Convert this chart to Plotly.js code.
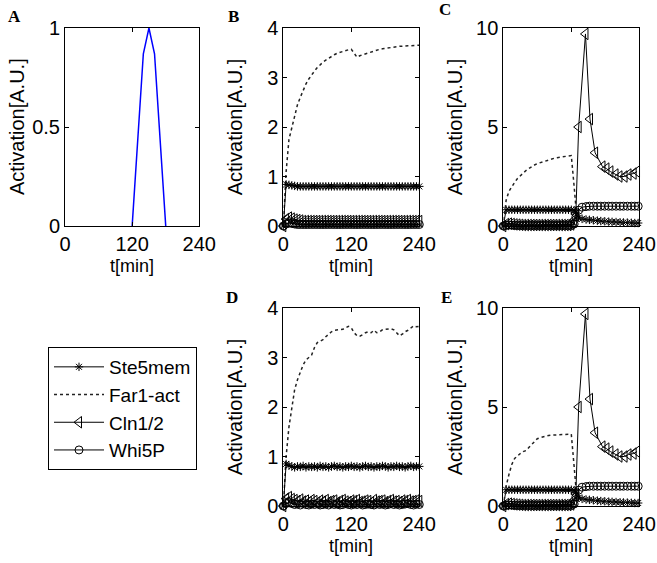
<!DOCTYPE html>
<html><head><meta charset="utf-8">
<script src="https://cdn.plot.ly/plotly-3.0.1.min.js"></script>
<style>html,body{margin:0;padding:0;background:#fff}#chart{width:657px;height:563px}</style>
</head><body><div id="chart"></div>
<script>
// ---------- DATA ----------
const panelLetters = ['A','B','C','D','E'];
const seriesNames = ['Ste5mem','Far1-act','Cln1/2','Whi5P'];
const xTicks = [0,120,240];
const yTicksA = [0,0.5,1];
const yTicksBD = [0,1,2,3,4];
const yTicksCE = [0,5,10];

// Panel A: input pulse
const tA = [120,140,150,160,180];
const pulseA = [0,0.87,1,0.87,0];

// Panels B and D time grid
const tB = [0,5,10,15,20,25,30,35,40,45,50,55,60,65,70,75,80,85,90,95,100,105,110,115,120,125,130,135,140,145,150,155,160,165,170,175,180,185,190,195,200,205,210,215,220,225,230,235,240];
const ste5B = [0,0.84,0.83,0.82,0.81,0.8,0.8,0.8,0.8,0.8,0.8,0.8,0.8,0.8,0.8,0.8,0.8,0.8,0.8,0.8,0.8,0.8,0.8,0.8,0.8,0.8,0.8,0.8,0.8,0.8,0.8,0.8,0.8,0.8,0.8,0.8,0.8,0.8,0.8,0.8,0.8,0.8,0.8,0.8,0.8,0.8,0.8,0.8,0.8];
const far1B = [0,1.1,1.75,2.0,2.25,2.45,2.6,2.75,2.87,2.97,3.06,3.13,3.2,3.26,3.31,3.35,3.39,3.43,3.46,3.49,3.51,3.53,3.55,3.56,3.57,3.49,3.41,3.44,3.46,3.48,3.5,3.52,3.54,3.56,3.57,3.58,3.59,3.6,3.61,3.62,3.62,3.63,3.63,3.64,3.64,3.64,3.65,3.65,3.65];
const clnB = [0,0.14,0.17,0.15,0.13,0.12,0.11,0.1,0.1,0.1,0.1,0.1,0.1,0.1,0.1,0.1,0.1,0.1,0.1,0.1,0.1,0.1,0.1,0.1,0.1,0.1,0.1,0.1,0.1,0.1,0.1,0.1,0.1,0.1,0.1,0.1,0.1,0.1,0.1,0.1,0.1,0.1,0.1,0.1,0.1,0.1,0.1,0.1,0.1];
const whiB = [0,0.04,0.06,0.05,0.04,0.03,0.03,0.03,0.03,0.03,0.03,0.03,0.03,0.03,0.03,0.03,0.03,0.03,0.03,0.03,0.03,0.03,0.03,0.03,0.03,0.03,0.03,0.03,0.03,0.03,0.03,0.03,0.03,0.03,0.03,0.03,0.03,0.03,0.03,0.03,0.03,0.03,0.03,0.03,0.03,0.03,0.03,0.03,0.03];

const ste5D = [0,0.85,0.82,0.8,0.78,0.8,0.79,0.81,0.78,0.8,0.79,0.8,0.78,0.81,0.79,0.8,0.78,0.8,0.81,0.79,0.8,0.78,0.8,0.79,0.81,0.79,0.8,0.78,0.8,0.81,0.79,0.8,0.78,0.8,0.79,0.81,0.8,0.78,0.8,0.79,0.81,0.79,0.8,0.78,0.8,0.81,0.79,0.8,0.8];
const far1D = [0,1.0,1.6,1.94,2.35,2.55,2.7,2.85,2.95,3.0,3.05,3.2,3.3,3.33,3.36,3.42,3.48,3.52,3.55,3.56,3.56,3.57,3.6,3.63,3.6,3.5,3.44,3.43,3.46,3.5,3.52,3.5,3.55,3.5,3.52,3.56,3.57,3.57,3.58,3.56,3.5,3.44,3.47,3.52,3.55,3.6,3.64,3.62,3.63];
const clnD = [0,0.15,0.18,0.14,0.12,0.1,0.13,0.09,0.11,0.08,0.12,0.1,0.07,0.11,0.09,0.12,0.08,0.1,0.11,0.07,0.1,0.12,0.09,0.08,0.11,0.1,0.12,0.08,0.09,0.11,0.1,0.07,0.12,0.09,0.1,0.11,0.08,0.1,0.12,0.09,0.1,0.08,0.11,0.1,0.12,0.09,0.1,0.11,0.1];
const whiD = [0,0.05,0.07,0.05,0.03,0.04,0.02,0.05,0.03,0.02,0.04,0.03,0.05,0.02,0.03,0.04,0.02,0.05,0.03,0.04,0.02,0.03,0.05,0.03,0.02,0.04,0.03,0.05,0.02,0.03,0.04,0.03,0.02,0.05,0.03,0.04,0.02,0.03,0.05,0.03,0.04,0.02,0.03,0.04,0.05,0.03,0.02,0.04,0.03];

// Panels C and E
const tC = [0,5,10,15,20,25,30,35,40,45,50,55,60,65,70,75,80,85,90,95,100,105,110,115,120,125,128,133,139,146,152,159,166,172,179,186,192,199,206,212,219,226,232,238];
const ste5C = [0,0.82,0.82,0.82,0.82,0.82,0.82,0.82,0.82,0.82,0.82,0.82,0.82,0.82,0.82,0.82,0.82,0.82,0.82,0.82,0.82,0.82,0.82,0.82,0.82,0.8,0.7,0.42,0.36,0.33,0.31,0.29,0.27,0.25,0.24,0.22,0.21,0.2,0.19,0.18,0.17,0.16,0.15,0.15];
const far1C = [0,1.3,1.75,2.0,2.2,2.4,2.55,2.7,2.8,2.9,3.0,3.08,3.15,3.2,3.26,3.3,3.35,3.38,3.42,3.45,3.48,3.5,3.52,3.54,3.56,2.0,1.0,0.5,0.35,0.3,0.28,0.26,0.25,0.24,0.23,0.22,0.22,0.21,0.21,0.2,0.2,0.2,0.19,0.19];
const far1E = [0,1.0,1.6,2.1,2.4,2.55,2.65,2.75,2.8,2.95,3.1,3.25,3.4,3.45,3.5,3.53,3.56,3.58,3.59,3.6,3.61,3.62,3.62,3.63,3.63,2.0,1.0,0.5,0.35,0.3,0.28,0.26,0.25,0.24,0.23,0.22,0.22,0.21,0.21,0.2,0.2,0.2,0.19,0.19];
const whiC = [0,0.03,0.05,0.04,0.03,0.03,0.03,0.03,0.03,0.03,0.03,0.03,0.03,0.03,0.03,0.03,0.03,0.03,0.03,0.03,0.03,0.03,0.03,0.03,0.03,0.1,0.45,0.8,0.95,0.98,1,1,1,1,1,1,1,1,1,1,1,1,1,1];
const tClnC = [0,5,10,15,20,25,30,35,40,45,50,55,60,65,70,75,80,85,90,95,100,105,110,115,120,125,128,133,145,153,162,175,182,189,198,205,214,221,230,236];
const clnC = [0,0.1,0.12,0.1,0.08,0.07,0.06,0.05,0.05,0.05,0.05,0.05,0.05,0.05,0.05,0.05,0.05,0.05,0.05,0.05,0.05,0.05,0.05,0.05,0.08,0.3,0.6,5.0,9.7,5.4,3.7,3.0,2.9,2.75,2.6,2.5,2.5,2.6,2.65,2.75];

// ---------- STYLE / LAYOUT ----------
const W = 657, H = 563;
const FONT = 'Liberation Sans, Arial, Helvetica, sans-serif';
const boxes = { // pixel boxes [x0,x1,y0,y1]
  A:[65,199.3,28,226], B:[283.3,419.3,28,226], C:[503.3,639.3,28,226],
  D:[283.3,419.3,308,506], E:[503.3,639.3,308,506]
};
const xd = b => [b[0]/W, b[1]/W];
const yd = b => [1-b[3]/H, 1-b[2]/H];

const styles = {
  'Ste5mem': {mode:'lines+markers', line:{color:'#000',width:1}, marker:{symbol:'asterisk-open',size:7,color:'#000',line:{color:'#000',width:1}}},
  'Far1-act': {mode:'lines', line:{color:'#222',width:1.5,dash:'dot'}},
  'Cln1/2': {mode:'lines+markers', line:{color:'#000',width:1}, marker:{symbol:'triangle-left-open',size:10,color:'#000',line:{color:'#000',width:1}}},
  'Whi5P': {mode:'lines+markers', line:{color:'#000',width:1}, marker:{symbol:'circle-open',size:8,color:'#000',line:{color:'#000',width:1}}}
};
function tr(name, x, y, ax, show){
  const s = styles[name];
  return Object.assign({type:'scatter', name:name, x:x, y:y, xaxis:'x'+ax, yaxis:'y'+ax,
    showlegend:!!show, cliponaxis:false, hoverinfo:'skip'}, JSON.parse(JSON.stringify(s)));
}

const traces = [
  {type:'scatter', mode:'lines', x:tA, y:pulseA, xaxis:'x', yaxis:'y', line:{color:'#0000ff',width:1.5}, showlegend:false, hoverinfo:'skip'},
  // B
  tr('Far1-act', tB, far1B, 2), tr('Ste5mem', tB, ste5B, 2), tr('Cln1/2', tB, clnB, 2), tr('Whi5P', tB, whiB, 2),
  // C (legend)
  tr('Ste5mem', tC, ste5C, 3, true), tr('Far1-act', tC, far1C, 3, true), tr('Cln1/2', tClnC, clnC, 3, true), tr('Whi5P', tC, whiC, 3, true),
  // D
  tr('Far1-act', tB, far1D, 4), tr('Ste5mem', tB, ste5D, 4), tr('Cln1/2', tB, clnD, 4), tr('Whi5P', tB, whiD, 4),
  // E
  tr('Ste5mem', tC, ste5C, 5), tr('Far1-act', tC, far1E, 5), tr('Cln1/2', tClnC, clnC, 5), tr('Whi5P', tC, whiC, 5)
];

function axis(extra){
  return Object.assign({showline:true, linecolor:'#000', linewidth:1, mirror:'ticks', ticks:'inside', ticklen:4,
    tickcolor:'#000', tickwidth:1, showgrid:false, zeroline:false, fixedrange:true,
    tickfont:{family:FONT, size:20, color:'#000'}}, extra);
}
const layout = {width:W, height:H, margin:{l:0,r:0,t:0,b:0}, paper_bgcolor:'#fff', plot_bgcolor:'#fff',
  showlegend:true,
  legend:{x:48/W, y:1-347/H, xanchor:'left', yanchor:'top', bgcolor:'#fff', bordercolor:'#000', borderwidth:1,
    font:{family:FONT, size:19, color:'#000'}, traceorder:'normal', itemwidth:50, tracegroupgap:0},
  annotations:[], font:{family:FONT, color:'#000'}};
const yt = {A:yTicksA, B:yTicksBD, C:yTicksCE, D:yTicksBD, E:yTicksCE};
const yr = {A:[0,1], B:[0,4], C:[0,10], D:[0,4], E:[0,10]};
const yfmt = {A:['0','0.5','1'], B:['0','1','2','3','4'], C:['0','5','10'], D:['0','1','2','3','4'], E:['0','5','10']};
panelLetters.forEach((p,i)=>{
  const n = i===0 ? '' : String(i+1);
  const b = boxes[p];
  layout['xaxis'+n] = axis({domain:xd(b), anchor:'y'+n, range:[0,240], tickvals:xTicks, ticktext:xTicks.map(String)});
  layout['yaxis'+n] = axis({domain:yd(b), anchor:'x'+n, range:yr[p], tickvals:yt[p], ticktext:yfmt[p]});
  const letterPos = {A:[14,17], B:[233,17], C:[445,10], D:[232,297], E:[446,297]}[p];
  layout.annotations.push({xref:'paper', yref:'paper', x:letterPos[0]/W, y:1-letterPos[1]/H, xanchor:'center', yanchor:'middle',
    text:'<b>'+p+'</b>', showarrow:false, font:{family:'Liberation Serif, Times New Roman, serif', size:17, color:'#000'}});
  layout.annotations.push({xref:'paper', yref:'paper', x:(b[0]-48)/W, y:1-((b[2]+b[3])/2)/H, xanchor:'center', yanchor:'middle',
    text:'Activation[A.U.]', textangle:-90, showarrow:false, font:{family:FONT, size:20, color:'#000'}});
  layout.annotations.push({xref:'paper', yref:'paper', x:((b[0]+b[1])/2)/W, y:1-(b[3]+40)/H, xanchor:'center', yanchor:'middle',
    text:'t[min]', showarrow:false, font:{family:FONT, size:18, color:'#000'}});
});
Plotly.newPlot('chart', traces, layout, {displayModeBar:false, staticPlot:true});
</script></body></html>
